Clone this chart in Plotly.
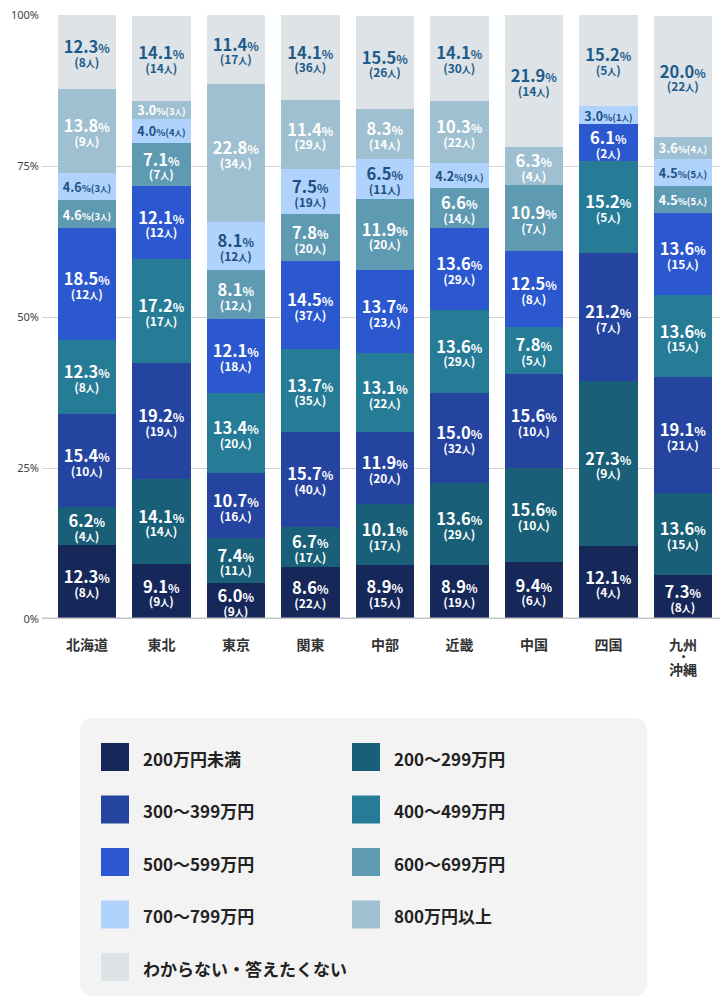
import plotly.graph_objects as go

# regions (x categories)
regions = ["北海道", "東北", "東京", "関東", "中部", "近畿", "中国", "四国", "九州・沖縄"]
region_ticks = ["北海道", "東北", "東京", "関東", "中部", "近畿", "中国", "四国", "九州"]

# income bands, bottom to top
bands = ["200万円未満", "200〜299万円", "300〜399万円", "400〜499万円", "500〜599万円",
         "600〜699万円", "700〜799万円", "800万円以上", "わからない・答えたくない"]
band_colors = ["#16285a", "#1a5f78", "#25449f", "#267b96", "#2b57cf",
               "#5f9ab3", "#b0d3fe", "#9fc0d0", "#dde3e6"]
label_colors = ["white", "white", "white", "white", "white",
                "white", "#1d4f80", "white", "#1d5b8a"]

# y axis ticks
y_ticks = [0, 25, 50, 75, 100]
y_tick_labels = ["0%", "25%", "50%", "75%", "100%"]

# percent and head count per band, one value per region
under200_pct = [12.3, 9.1, 6.0, 8.6, 8.9, 8.9, 9.4, 12.1, 7.3]
under200_n = [8, 9, 9, 22, 15, 19, 6, 4, 8]
r200_pct = [6.2, 14.1, 7.4, 6.7, 10.1, 13.6, 15.6, 27.3, 13.6]
r200_n = [4, 14, 11, 17, 17, 29, 10, 9, 15]
r300_pct = [15.4, 19.2, 10.7, 15.7, 11.9, 15.0, 15.6, 21.2, 19.1]
r300_n = [10, 19, 16, 40, 20, 32, 10, 7, 21]
r400_pct = [12.3, 17.2, 13.4, 13.7, 13.1, 13.6, 7.8, 15.2, 13.6]
r400_n = [8, 17, 20, 35, 22, 29, 5, 5, 15]
r500_pct = [18.5, 12.1, 12.1, 14.5, 13.7, 13.6, 12.5, 6.1, 13.6]
r500_n = [12, 12, 18, 37, 23, 29, 8, 2, 15]
r600_pct = [4.6, 7.1, 8.1, 7.8, 11.9, 6.6, 10.9, 0, 4.5]
r600_n = [3, 7, 12, 20, 20, 14, 7, 0, 5]
r700_pct = [4.6, 4.0, 8.1, 7.5, 6.5, 4.2, 0, 3.0, 4.5]
r700_n = [3, 4, 12, 19, 11, 9, 0, 1, 5]
over800_pct = [13.8, 3.0, 22.8, 11.4, 8.3, 10.3, 6.3, 0, 3.6]
over800_n = [9, 3, 34, 29, 14, 22, 4, 0, 4]
unknown_pct = [12.3, 14.1, 11.4, 14.1, 15.5, 14.1, 21.9, 15.2, 20.0]
unknown_n = [8, 14, 17, 36, 26, 30, 14, 5, 22]

pct_series = [under200_pct, r200_pct, r300_pct, r400_pct, r500_pct,
              r600_pct, r700_pct, over800_pct, unknown_pct]
n_series = [under200_n, r200_n, r300_n, r400_n, r500_n,
            r600_n, r700_n, over800_n, unknown_n]

FONT = "Noto Sans CJK JP"

# the page adds an 8px body margin, so shift everything back by that much
PAGE_PAD = 8
W, H = 728, 1000

# plot area in screen pixels
PLOT_TOP, PLOT_BOTTOM = 15, 619
PLOT_LEFT, PLOT_RIGHT = 42, 728


def px(x):
    return (x - PLOT_LEFT) / (PLOT_RIGHT - PLOT_LEFT)


def py(y):
    return (PLOT_BOTTOM - y) / (PLOT_BOTTOM - PLOT_TOP)


def seg_label(p, n):
    if p == 0:
        return ""
    if p < 5:
        return (f"<b><span style='font-size:12.5px'>{p:.1f}</span>"
                f"<span style='font-size:9.5px'>%({n}<span style='font-size:7.5px'>人</span>)</span></b>")
    return (f"<b><span style='font-size:16.5px'>{p:.1f}</span>"
            f"<span style='font-size:12px'>%</span><br>"
            f"<span style='font-size:12px'>({n}<span style='font-size:9px'>人</span>)</span></b>")


fig = go.Figure()
for name, color, tcolor, pcts, ns in zip(bands, band_colors, label_colors, pct_series, n_series):
    fig.add_trace(go.Bar(
        x=regions, y=pcts, name=name,
        marker=dict(color=color, line=dict(width=0)),
        text=[seg_label(p, n) for p, n in zip(pcts, ns)],
        textposition="inside", insidetextanchor="middle",
        constraintext="none", textangle=0,
        textfont=dict(family=FONT, size=10.5, color=tcolor),
        hoverinfo="skip",
    ))

# baseline
shapes = [dict(type="line", xref="paper", yref="y", x0=0, x1=1, y0=0, y1=0,
               line=dict(color="#c4c4c4", width=3), layer="above")]

# legend panel with rounded corners
bx0, bx1, by0, by1 = px(80), px(647), py(718), py(996)
rx, ry = 14 / (PLOT_RIGHT - PLOT_LEFT), 14 / (PLOT_BOTTOM - PLOT_TOP)
path = (f"M {bx0 + rx},{by0} L {bx1 - rx},{by0} Q {bx1},{by0} {bx1},{by0 - ry} "
        f"L {bx1},{by1 + ry} Q {bx1},{by1} {bx1 - rx},{by1} "
        f"L {bx0 + rx},{by1} Q {bx0},{by1} {bx0},{by1 + ry} "
        f"L {bx0},{by0 - ry} Q {bx0},{by0} {bx0 + rx},{by0} Z")
shapes.append(dict(type="path", xref="paper", yref="paper", path=path,
                   fillcolor="#f3f3f3", line=dict(width=0), layer="below"))

annotations = []
for i, (name, color) in enumerate(zip(bands, band_colors)):
    col, row = i % 2, i // 2
    cy = 757 + row * 52.5
    sx = 101 + col * 251
    shapes.append(dict(type="rect", xref="paper", yref="paper",
                       x0=px(sx), x1=px(sx + 28), y0=py(cy - 14), y1=py(cy + 14),
                       fillcolor=color, line=dict(width=0)))
    annotations.append(dict(xref="paper", yref="paper", x=px(sx + 40), y=py(cy + 1),
                            xanchor="left", yanchor="middle", showarrow=False,
                            text=f"<b>{name}</b>",
                            font=dict(family=FONT, size=17, color="#222")))

# second half of the 九州・沖縄 label, stacked under the tick text
annotations.append(dict(xref="x", yref="paper", x="九州・沖縄", y=py(657.5),
                        xanchor="center", yanchor="middle", showarrow=False,
                        text="<b>•</b>", font=dict(family="DejaVu Sans", size=8, color="#333")))
annotations.append(dict(xref="x", yref="paper", x="九州・沖縄", y=py(669),
                        xanchor="center", yanchor="middle", showarrow=False,
                        text="<b>沖縄</b>", font=dict(family=FONT, size=14, color="#333")))

fig.update_layout(
    width=W, height=H,
    margin=dict(l=PLOT_LEFT - PAGE_PAD, r=W - PLOT_RIGHT + PAGE_PAD,
                t=PLOT_TOP - PAGE_PAD, b=H - PLOT_BOTTOM + PAGE_PAD),
    barmode="stack", bargap=0.22,
    plot_bgcolor="white", paper_bgcolor="white",
    showlegend=False,
    font=dict(family=FONT),
    shapes=shapes, annotations=annotations,
    xaxis=dict(
        range=[-0.604, 8.604], tickmode="array", tickvals=regions, ticktext=region_ticks,
        tickfont=dict(family=FONT, size=14, color="#333", weight="bold"),
        ticks="", showline=False, ticklabelstandoff=16, automargin=False,
    ),
    yaxis=dict(
        range=[0, 100], tickmode="array", tickvals=y_ticks, ticktext=y_tick_labels,
        tickfont=dict(family="Noto Sans", size=11, color="#444"),
        gridcolor="#d4d4d4", gridwidth=1, zeroline=False,
        ticks="", ticklabelstandoff=2, automargin=False,
        ticklabeloverflow="allow",
    ),
)

fig.write_html("out.html")
